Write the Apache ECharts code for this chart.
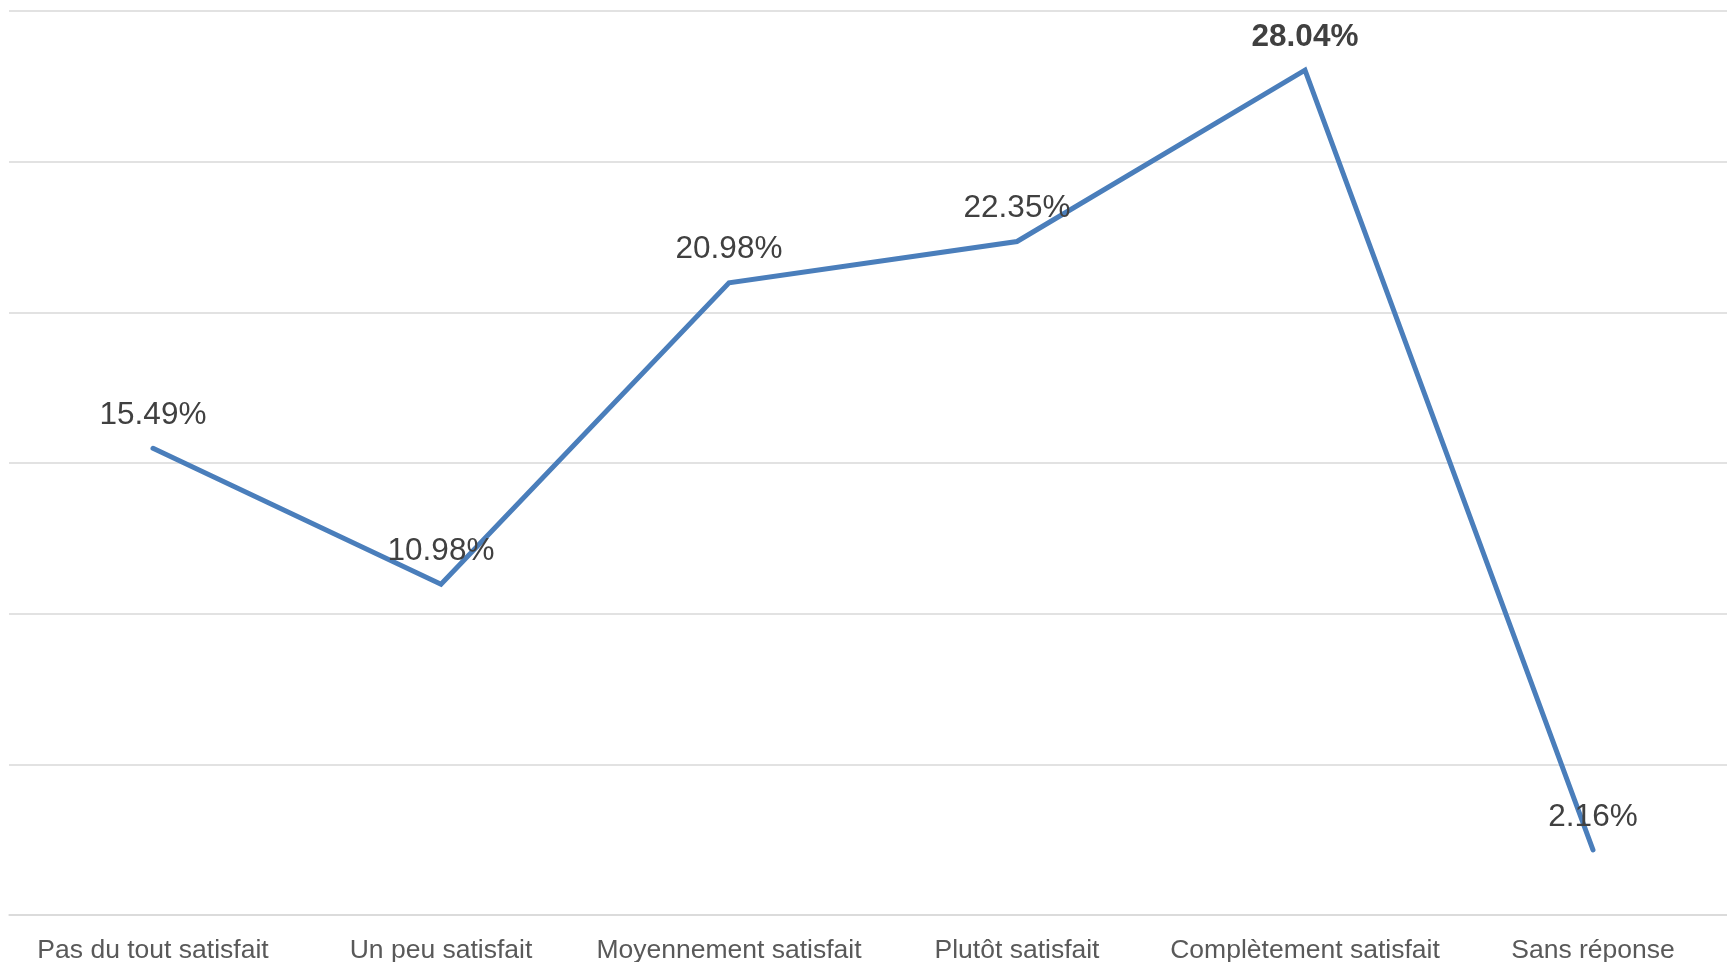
<!DOCTYPE html>
<html>
<head>
<meta charset="utf-8">
<title>Satisfaction</title>
<script src="https://cdn.jsdelivr.net/npm/echarts@6/dist/echarts.min.js"></script>
<style>
  html, body { margin: 0; padding: 0; background: #fff; }
  #chart { width: 1727px; height: 962px; }
</style>
</head>
<body>
<div id="chart"></div>
<script>
// catégories et valeurs (%)
var categories = ['Pas du tout satisfait', 'Un peu satisfait', 'Moyennement satisfait', 'Plutôt satisfait', 'Complètement satisfait', 'Sans réponse']
var values = [15.49, 10.98, 20.98, 22.35, 28.04, 2.16]
var yTicks = [0, 5, 10, 15, 20, 25, 30]

var maxValue = Math.max.apply(null, values)
// la valeur la plus haute est en gras
var seriesData = values.map(function (v) {
  return v === maxValue ? { value: v, label: { fontWeight: 'bold' } } : v
})

var chart = echarts.init(document.getElementById('chart'))
chart.setOption({
  animation: false,
  textStyle: {
    fontFamily: 'Arial, "Liberation Sans", sans-serif'
  },
  grid: {
    left: 9,
    top: 11,
    bottom: 47,
    width: 1728,
    // le graphique déborde un peu à droite
    outerBoundsMode: 'none'
  },
  xAxis: {
    type: 'category',
    data: categories,
    boundaryGap: true,
    axisTick: { show: false },
    axisLine: {
      lineStyle: { color: '#d9d9d9', width: 1.5 }
    },
    axisLabel: {
      margin: 22,
      color: '#595959',
      fontSize: 26.5,
      interval: 0
    }
  },
  yAxis: {
    type: 'value',
    min: yTicks[0],
    max: yTicks[yTicks.length - 1],
    interval: 5,
    axisLabel: { show: false },
    axisLine: { show: false },
    axisTick: { show: false },
    splitLine: {
      lineStyle: { color: '#d9d9d9', width: 1.5 }
    }
  },
  series: [
    {
      type: 'line',
      data: seriesData,
      symbol: 'circle',
      symbolSize: 2,
      itemStyle: { color: '#4a7ebb' },
      lineStyle: {
        color: '#4a7ebb',
        width: 5,
        cap: 'round',
        join: 'miter'
      },
      label: {
        show: true,
        position: 'top',
        distance: 16,
        fontSize: 31.5,
        lineHeight: 32,
        color: '#404040',
        formatter: function (p) {
          return p.value.toFixed(2) + '%'
        }
      }
    }
  ]
})
</script>
</body>
</html>
